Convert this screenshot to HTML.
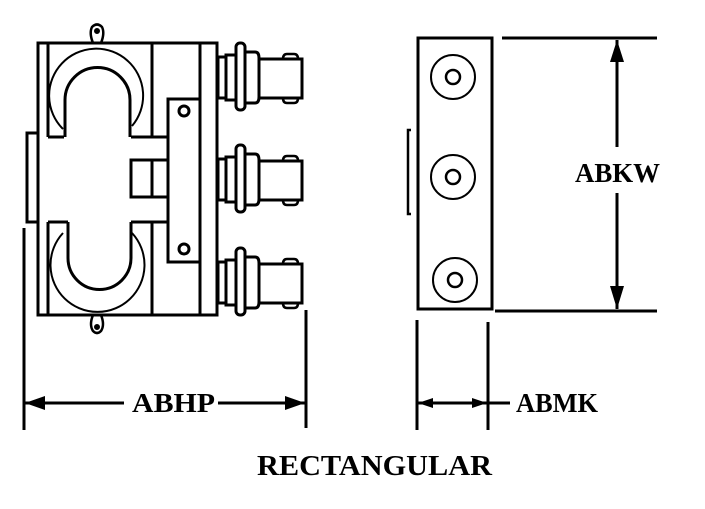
<!DOCTYPE html>
<html><head><style>html,body{margin:0;padding:0;background:#fff;}svg{display:block}
.t{font-family:"Liberation Serif",serif;font-weight:bold;}</style></head>
<body>
<svg width="705" height="509" viewBox="0 0 705 509" xmlns="http://www.w3.org/2000/svg">
<defs>
<g id="conn" fill="none" stroke="#000" stroke-width="3">
  <rect x="218" y="-21" width="8" height="41"/>
  <rect x="226" y="-23" width="10" height="45"/>
  <rect x="236" y="-35" width="9" height="67" rx="4"/>
  <path d="M245,-26 H255 Q259,-26 259,-20 V19 Q259,25 255,25 H245"/>
  <rect x="259" y="-19" width="43" height="39"/>
  <path d="M283,-19 Q283,-24 287,-24 H294 Q298,-24 298,-19" stroke-width="2.5"/>
  <path d="M283,20 Q283,25 287,25 H294 Q298,25 298,20" stroke-width="2.5"/>
</g>
</defs>
<g fill="none" stroke="#000" stroke-width="3">
  <rect x="38" y="43" width="179" height="272"/>
  <line x1="48" y1="43" x2="48" y2="137"/>
  <line x1="48" y1="222" x2="48" y2="315"/>
  <line x1="152" y1="43" x2="152" y2="137"/>
  <line x1="152" y1="222" x2="152" y2="315"/>
  <line x1="200" y1="43" x2="200" y2="315"/>
  <path d="M38,133 H27 V222 H38"/>
  <path d="M48,137 H64 M131,137 H168"/>
  <path d="M48,222 H68 M131,222 H168"/>
  <rect x="131" y="160" width="37" height="37"/>
  <line x1="152" y1="160" x2="152" y2="197"/>
  <rect x="168" y="99" width="32" height="163"/>
  <circle cx="184" cy="111" r="5"/>
  <circle cx="184" cy="249" r="5"/>
  <path d="M65,137 V100 A32.5,32.5 0 0 1 130,100 V137"/>
  <path d="M63,129 A47,47 0 1 1 132,126" stroke-width="2"/>
  <path d="M68,222 V258 A31.5,31.5 0 0 0 131,258 V222"/>
  <path d="M63,233 A47,47 0 1 0 132,233" stroke-width="2"/>
  <path d="M93,43 Q89,33 92,27 Q97,22 102,27 Q105,33 101,43" stroke-width="2.5"/>
  <circle cx="97" cy="31" r="1.5" fill="#000"/>
  <path d="M93,315 Q89,325 93,331 Q97,335 101,331 Q105,325 101,315" stroke-width="2.5"/>
  <circle cx="97" cy="327" r="1.5" fill="#000"/>
</g>
<use href="#conn" transform="translate(0,78)"/>
<use href="#conn" transform="translate(0,180)"/>
<use href="#conn" transform="translate(0,283)"/>
<g fill="none" stroke="#000" stroke-width="3">
  <rect x="418" y="38" width="74" height="271"/>
  <circle cx="453" cy="77" r="22" stroke-width="2"/>
  <circle cx="453" cy="77" r="7" stroke-width="2.5"/>
  <circle cx="453" cy="177" r="22" stroke-width="2"/>
  <circle cx="453" cy="177" r="7" stroke-width="2.5"/>
  <circle cx="455" cy="280" r="22" stroke-width="2"/>
  <circle cx="455" cy="280" r="7" stroke-width="2.5"/>
  <path d="M411,130 H408 V214 H411" stroke-width="2.5"/>
  <line x1="502" y1="38" x2="657" y2="38"/>
  <line x1="495" y1="311" x2="657" y2="311"/>
  <line x1="617" y1="40" x2="617" y2="147"/>
  <line x1="617" y1="193" x2="617" y2="309"/>
  <line x1="417" y1="320" x2="417" y2="430"/>
  <line x1="488" y1="322" x2="488" y2="430"/>
  <line x1="417" y1="403" x2="510" y2="403"/>
  <line x1="24" y1="228" x2="24" y2="430"/>
  <line x1="306" y1="310" x2="306" y2="428"/>
  <line x1="24" y1="403" x2="124" y2="403"/>
  <line x1="218" y1="403" x2="306" y2="403"/>
</g>
<g fill="#000">
  <polygon points="617,40 610,62 624,62"/>
  <polygon points="617,309 610,286 624,286"/>
  <polygon points="418,403 433,398 433,408"/>
  <polygon points="487,403 472,398 472,408"/>
  <polygon points="25,403 45,396 45,410"/>
  <polygon points="305,403 285,396 285,410"/>
</g>
<g class="t" fill="#000">
  <text x="575" y="182" font-size="27" textLength="85" lengthAdjust="spacingAndGlyphs">ABKW</text>
  <text x="516" y="412" font-size="27" textLength="82" lengthAdjust="spacingAndGlyphs">ABMK</text>
  <text x="132" y="412" font-size="27" textLength="83" lengthAdjust="spacingAndGlyphs">ABHP</text>
  <text x="257" y="475" font-size="29" textLength="235" lengthAdjust="spacingAndGlyphs">RECTANGULAR</text>
</g>
</svg>
</body></html>
